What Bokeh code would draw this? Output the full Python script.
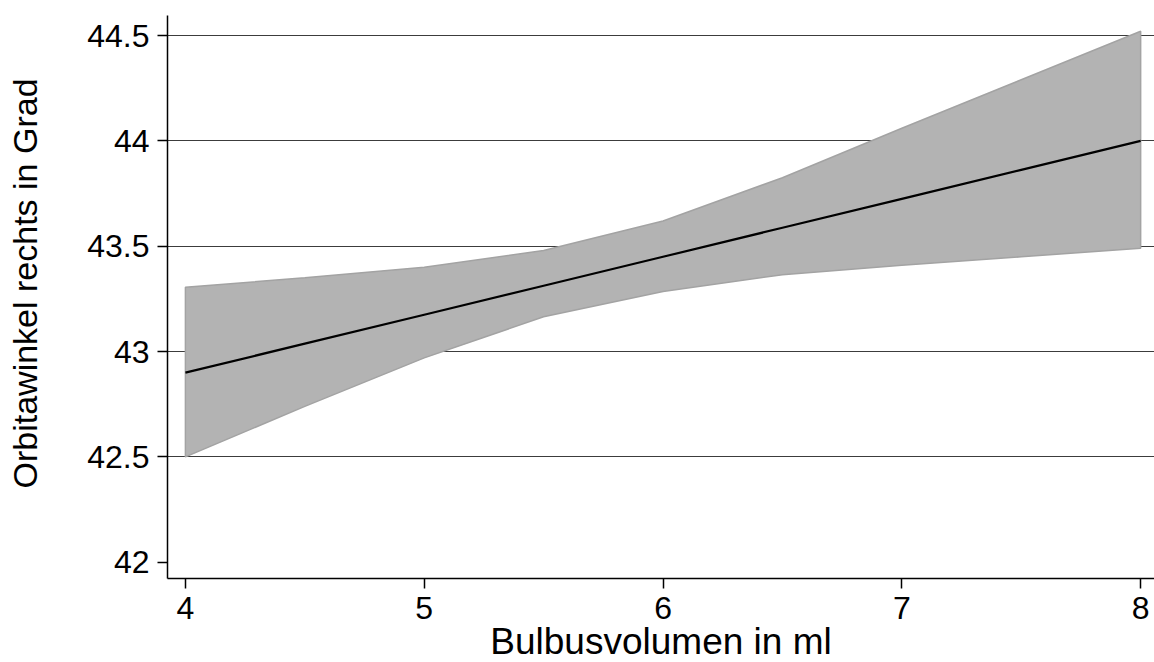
from bokeh.plotting import figure
from bokeh.models import FixedTicker, Range1d, Title
from bokeh.embed import file_html
from bokeh.resources import INLINE

# Predicted orbit angle (linear fit) with 95% confidence band
volume = [4.0, 4.5, 5.0, 5.5, 6.0, 6.5, 7.0, 7.5, 8.0]
fit = [42.90, 43.0375, 43.175, 43.3125, 43.45, 43.5875, 43.725, 43.8625, 44.00]
ci_upper = [43.305, 43.35, 43.40, 43.48, 43.62, 43.825, 44.06, 44.29, 44.52]
ci_lower = [42.50, 42.74, 42.97, 43.165, 43.285, 43.365, 43.41, 43.45, 43.49]

x_ticks = [4, 5, 6, 7, 8]
y_ticks = [42, 42.5, 43, 43.5, 44, 44.5]
grid_lines = [42.5, 43, 43.5, 44, 44.5]

FONT = "Liberation Sans"

p = figure(width=1154, height=662, output_backend="svg", toolbar_location=None,
           x_range=Range1d(3.925, 8.058), y_range=Range1d(41.923, 44.595),
           min_border_left=167, min_border_right=0, min_border_top=15,
           min_border_bottom=84)
p.outline_line_color = None
p.background_fill_color = "white"
p.border_fill_color = "white"

# confidence band as a closed polygon
band_x = volume + volume[::-1]
band_y = ci_upper + ci_lower[::-1]
p.patch(band_x, band_y, fill_color="#b3b3b3", line_color="#a3a3a3", line_width=1.5)
p.line(volume, fit, line_color="black", line_width=2.2)

for ax in (p.xaxis[0], p.yaxis[0]):
    ax.axis_line_color = "black"
    ax.axis_line_width = 1.5
    ax.major_tick_line_color = "black"
    ax.major_tick_line_width = 1.5
    ax.major_tick_out = 10
    ax.major_tick_in = 0
    ax.minor_tick_line_color = None
    ax.major_label_text_font = FONT
    ax.major_label_text_font_size = "32px"
    ax.major_label_text_color = "black"
    ax.major_label_standoff = 8

p.xaxis[0].ticker = FixedTicker(ticks=x_ticks)
p.yaxis[0].ticker = FixedTicker(ticks=y_ticks)
p.xaxis[0].major_label_standoff = 8

# blank y-axis label keeps a gap between tick labels and the y title
p.yaxis[0].axis_label = " "
p.yaxis[0].axis_label_text_font = FONT
p.yaxis[0].axis_label_text_font_size = "34px"
p.yaxis[0].axis_label_standoff = 0

p.xgrid.grid_line_color = None
p.ygrid.ticker = FixedTicker(ticks=grid_lines)
p.ygrid.grid_line_color = "#3c3c3c"
p.ygrid.grid_line_width = 1

ytitle = Title(text="Orbitawinkel rechts in Grad", align="left", offset=90,
               text_font=FONT, text_font_size="34px", text_font_style="normal",
               text_color="black", standoff=0)
p.add_layout(ytitle, "left")

xtitle = Title(text="Bulbusvolumen in ml", align="center", vertical_align="bottom",
               text_font=FONT, text_font_size="37px", text_font_style="normal",
               text_color="black", standoff=-6)
p.add_layout(xtitle, "below")

open("out.html", "w").write(file_html(p, INLINE))
